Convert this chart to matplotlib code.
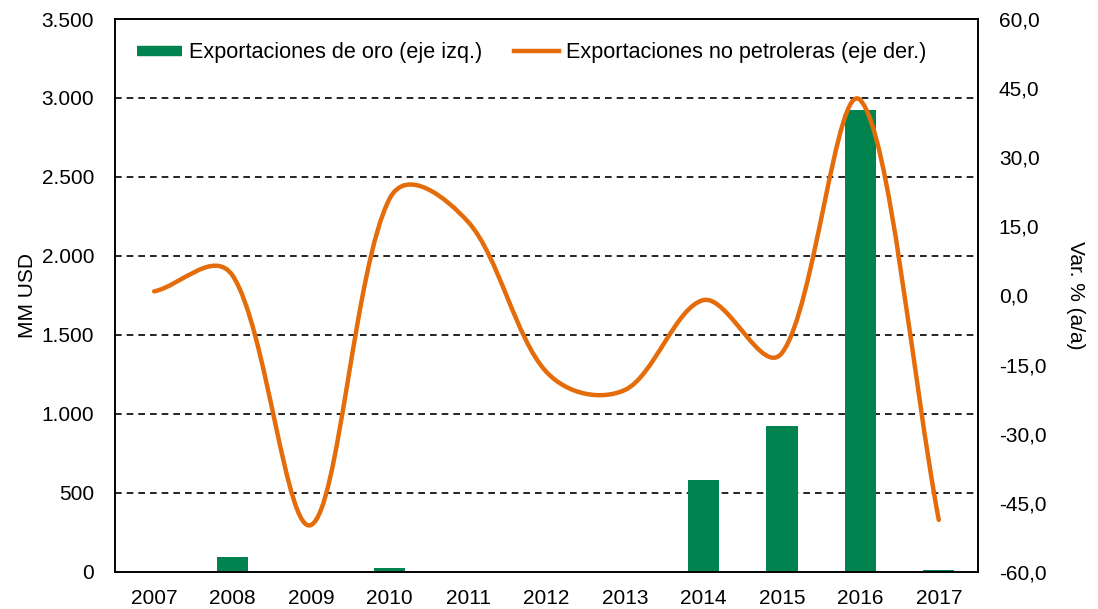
import matplotlib.pyplot as plt
import numpy as np
from matplotlib.path import Path
from matplotlib.patches import PathPatch
from matplotlib.lines import Line2D
from matplotlib.ticker import FuncFormatter

plt.rcParams['font.family'] = ['Liberation Sans', 'DejaVu Sans']

# datos
anios = ['2007', '2008', '2009', '2010', '2011', '2012', '2013', '2014', '2015', '2016', '2017']
oro = [0, 95, 0, 25, 2, 0, 0, 582, 924, 2923, 13]  # MM USD
no_petroleras = [0.9, 4.3, -49.8, 21.0, 16.0, -16.6, -20.5, -1.0, -12.5, 42.4, -48.7]  # var % a/a

verde = '#00834E'
naranja = '#E46C0A'

fig = plt.figure(figsize=(10.98, 6.09), dpi=100)
ax = fig.add_axes([0.1047, 0.0608, 0.7860, 0.9080])
ax2 = ax.twinx()

x = np.arange(len(anios))
ax.bar(x, oro, width=0.4, color=verde, zorder=2)
ax.set_xlim(-0.5, len(anios) - 0.5)
ax.set_ylim(0, 3500)
ax.set_yticks(np.arange(0, 3501, 500))
ax.yaxis.set_major_formatter(FuncFormatter(lambda v, p: f'{int(v):,}'.replace(',', '.')))
ax.set_xticks(x)
ax.set_xticklabels(anios)
for v in range(500, 3500, 500):
    ax.axhline(v, color='black', linestyle=(0, (4, 3)), linewidth=1.2, zorder=1)

ax2.set_ylim(-60, 60)
ax2.set_yticks(np.arange(-60, 61, 15))
ax2.yaxis.set_major_formatter(FuncFormatter(lambda v, p: f'{v:.1f}'.replace('.', ',')))

# linea suavizada (bezier tipo excel, calculada en pixeles)
tr = ax2.transData
pix = tr.transform(np.column_stack([x, no_petroleras]))
n = len(pix)
t = 1 / 3
a = 0.5
verts = [pix[0]]
codes = [Path.MOVETO]
for i in range(n - 1):
    p0 = pix[i - 1] if i > 0 else pix[i]
    p1 = pix[i]
    p2 = pix[i + 1]
    p3 = pix[i + 2] if i + 2 < n else pix[i + 1]
    d01 = np.hypot(*(p1 - p0)) ** a
    d12 = np.hypot(*(p2 - p1)) ** a
    d23 = np.hypot(*(p3 - p2)) ** a
    c1 = p1 + (p2 - p0) * t * d12 / (d01 + d12) if d01 > 0 else p1 + (p2 - p1) * t
    c2 = p2 - (p3 - p1) * t * d12 / (d12 + d23) if d23 > 0 else p2 - (p2 - p1) * t
    verts += [c1, c2, p2]
    codes += [Path.CURVE4] * 3
verts = tr.inverted().transform(np.array(verts))
ax2.add_patch(PathPatch(Path(verts, codes), facecolor='none', edgecolor=naranja,
                        linewidth=3.2, capstyle='round', joinstyle='round', zorder=3))

for ej in (ax, ax2):
    ej.tick_params(length=0, labelsize=15, pad=15)
    for s in ej.spines.values():
        s.set_color('black')
        s.set_linewidth(1.2)
ax.tick_params(axis='x', pad=12)

ax.set_ylabel('MM USD', fontsize=15, labelpad=3)
ax2.set_ylabel('Var. % (a/a)', fontsize=15, rotation=-90, labelpad=28)

handles = [Line2D([0], [0], color=verde, linewidth=7.5, solid_capstyle='butt'),
           Line2D([0], [0], color=naranja, linewidth=3.2)]
ax.legend(handles, ['Exportaciones de oro (eje izq.)', 'Exportaciones no petroleras (eje der.)'],
          loc='upper left', ncol=2, frameon=False, fontsize=15.6, handlelength=2.1,
          handletextpad=0.3, columnspacing=1.45, borderpad=0, borderaxespad=0,
          bbox_to_anchor=(0.0255, 0.958))

fig.savefig('out.png', dpi=100)
